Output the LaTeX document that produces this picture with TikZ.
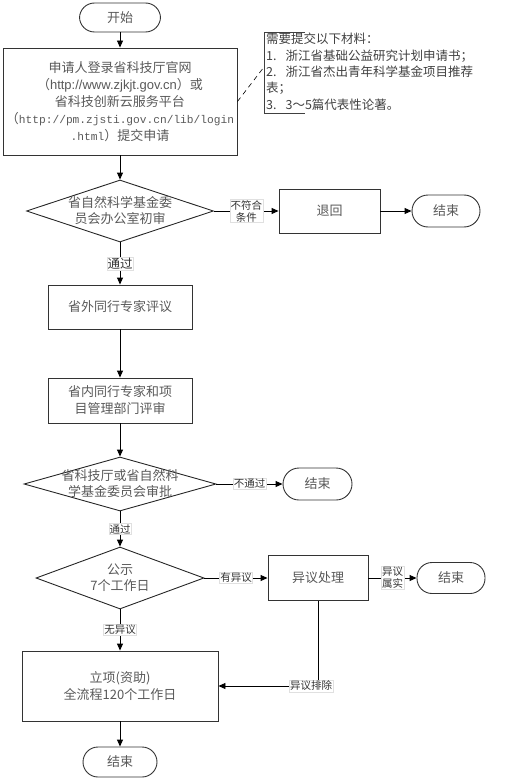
\documentclass[tikz,border=0pt]{standalone}
\usepackage{fontspec}
\setmainfont{Noto Sans CJK SC}
\newfontfamily\urlsans{Liberation Sans}
\newfontfamily\urlmono{Liberation Mono}
\usetikzlibrary{arrows.meta,shapes.geometric}
\newcommand{\itemgap}{\hspace{9pt}}
\tikzset{
	box/.style={draw=black!80, line width=0.9pt, text=black!65, align=center, inner sep=0pt, font=\fontsize{13}{17}\selectfont},
	term/.style={box, rounded corners=15pt},
	decision/.style={diamond, draw=black!85, line width=0.9pt, inner sep=0pt},
	dtext/.style={text=black!65, align=center, font=\fontsize{13}{16}\selectfont},
	notetext/.style={text=black!75, align=left, inner xsep=2pt, inner ysep=1pt, font=\fontsize{12.5}{16.3}\selectfont},
	lbl/.style={fill=white, draw=black!12, line width=0.4pt, inner sep=0.8pt, text=black!80, align=center, font=\fontsize{10.5}{12}\selectfont},
	arr/.style={line width=0.9pt, -{Triangle[length=7pt,width=6pt]}}
}

\begin{document}
\begin{tikzpicture}[x=1pt, y=-1pt]
			%%%%% START %%%%%
			\useasboundingbox (0, 0) rectangle (513, 781);
			
			\node[term, minimum width=81pt, minimum height=29pt] (start) at (120, 17.5) {开始};
			\node[box, minimum width=234pt, minimum height=107pt] (apply) at (120, 101.5)
				{申请人登录省科技厅官网\\（{\urlsans http://www.zjkjt.gov.cn}）或\\省科技创新云服务平台\\（{\urlmono\fontsize{11.2}{17}\selectfont http://pm.zjsti.gov.cn/lib/login}\\{\urlmono\fontsize{11.2}{17}\selectfont .html}）提交申请};
			
			% materials note
			\node[notetext, anchor=north west] (note) at (264, 32)
				{需要提交以下材料：\\1.\itemgap 浙江省基础公益研究计划申请书；\\2.\itemgap 浙江省杰出青年科学基金项目推荐\\表；\\3.\itemgap 3～5篇代表性论著。};
			\draw[line width=0.6pt, black!75] ([xshift=41pt]note.north west) -- (note.north west) -- ([yshift=-81pt]note.north west) -- ++(41, 0);
			\coordinate (notept) at (264, 67);
			
			\node[decision, minimum width=187pt, minimum height=62pt, label={[dtext]center:省自然科学基金委\\员会办公室初审}] (check) at (120, 211) {};
			\node[box, minimum width=101pt, minimum height=44pt] (back) at (329.5, 211) {退回};
			\node[term, minimum width=68pt, minimum height=32pt, rounded corners=16pt] (end1) at (446, 211) {结束};
			
			\node[box, minimum width=144pt, minimum height=44pt] (outer) at (120, 307) {省外同行专家评议};
			\node[box, minimum width=144pt, minimum height=45pt] (inner) at (120, 400.5) {省内同行专家和项\\目管理部门评审};
			
			\node[decision, minimum width=192pt, minimum height=54pt, label={[dtext]center:省科技厅或省自然科\\学基金委员会审批}] (approve) at (120, 484) {};
			\node[term, minimum width=69pt, minimum height=32pt, rounded corners=16pt] (end2) at (317.5, 484) {结束};
			
			\node[decision, minimum width=168pt, minimum height=62pt, label={[dtext]center:公示\\7个工作日}] (publish) at (120, 578) {};
			\node[box, minimum width=100pt, minimum height=45pt] (objection) at (318, 578) {异议处理};
			\node[term, minimum width=68pt, minimum height=31pt] (end3) at (451, 578) {结束};
			
			\node[box, minimum width=196pt, minimum height=70pt] (project) at (120, 686) {立项(资助)\\全流程120个工作日};
			\node[term, minimum width=74pt, minimum height=30pt] (end4) at (120, 762) {结束};
			
			% connectors
			\draw[arr] (start) -- (apply);
			\draw[dash pattern=on 5pt off 4pt, line width=0.6pt] (apply.east) -- (notept);
			\draw[arr] (apply) -- (check);
			\draw[arr] (check) -- node[lbl] {不符合\\条件} (back);
			\draw[arr] (back) -- (end1);
			\draw[arr] (check) -- node[lbl, font=\fontsize{12.5}{14}\selectfont] {通过} (outer);
			\draw[arr] (outer) -- (inner);
			\draw[arr] (inner) -- (approve);
			\draw[arr] (approve) -- node[lbl] {不通过} (end2);
			\draw[arr] (approve) -- node[lbl] {通过} (publish);
			\draw[arr] (publish) -- node[lbl] {有异议} (objection);
			\draw[arr] (objection) -- node[lbl] {异议\\属实} (end3);
			\draw[arr] (publish) -- node[lbl] {无异议} (project);
			\draw[arr] (objection) |- node[lbl, pos=0.535] {异议排除} (project);
			\draw[arr] (project) -- (end4);
			
			%%%%% END %%%%%
\end{tikzpicture}
\end{document}
